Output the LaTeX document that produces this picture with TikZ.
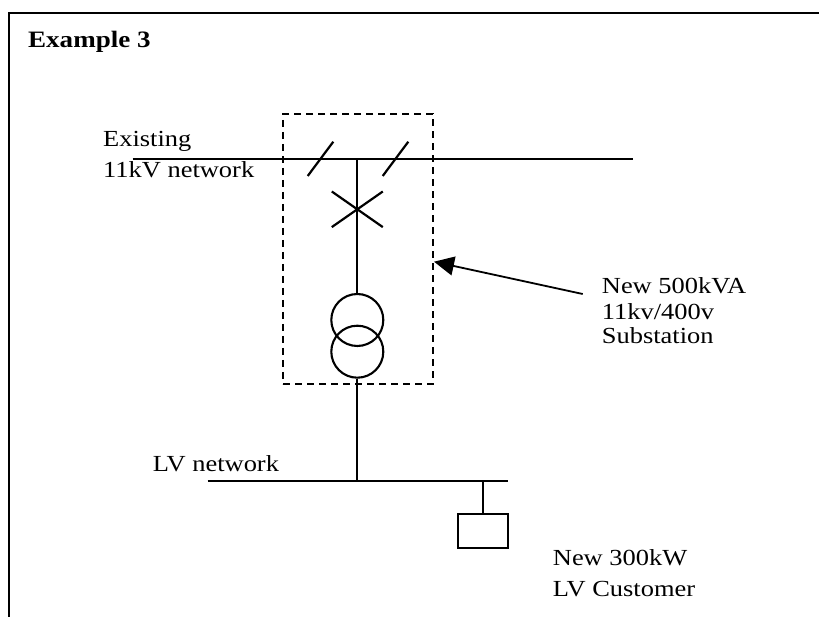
\documentclass[tikz,border=0pt]{standalone}
\usepackage{fontspec}
\setmainfont{Liberation Serif}[FakeStretch=1.15]
\usetikzlibrary{arrows.meta,calc}
\begin{document}
\begin{tikzpicture}[x=1pt,y=-1pt,
  lbl/.style={anchor=base west,inner sep=0pt,font=\fontsize{23}{27}\selectfont},
  title/.style={anchor=base west,inner sep=0pt,font=\fontsize{23.5}{28}\selectfont\bfseries},
  wire/.style={line width=2.2pt},
  thin wire/.style={line width=1.9pt},
  dashbox/.style={draw,dash pattern=on 7pt off 5pt,line width=2pt,inner sep=0pt},
  tx/.style={draw,circle,line width=2.1pt,minimum size=52pt,inner sep=0pt}]
\useasboundingbox (0,0) rectangle (819,617);
% frame
\draw[line width=2pt] (9,617) -- (9,12.7) -- (830,12.7);
\node[title] (ttl) at (28,48) {Example 3};
% HV bus
\coordinate (hvL) at (132.7,159.3);
\coordinate (hvR) at (633,159.3);
\coordinate (tee) at (357.3,159.3);
\draw[wire] (hvL) -- (hvR);
\node[lbl] (ex1) at (103,147) {Existing};
\node[lbl] (ex2) at (103,178) {11kV network};
% switches
\coordinate (s1) at (320.5,159);
\coordinate (s2) at (395.5,159);
\draw[wire] ($(s1)+(-12.8,17)$) -- ($(s1)+(12.8,-17.3)$);
\draw[wire] ($(s2)+(-12.8,17)$) -- ($(s2)+(12.8,-17.3)$);
% breaker
\coordinate (cb) at (357.3,209.3);
\draw[wire] ($(cb)+(-25.5,-17.8)$) -- ($(cb)+(25.5,17.8)$);
\draw[wire] ($(cb)+(-25.5,17.8)$) -- ($(cb)+(25.5,-17.8)$);
% transformer
\node[tx] (t1) at (357.3,320) {};
\node[tx] (t2) at (357.3,351.7) {};
\draw[wire] (tee) -- (t1.north);
% substation box
\node[dashbox,minimum width=150pt,minimum height=270pt] (sub) at (358,249) {};
% LV bus
\coordinate (lvL) at (207.7,481);
\coordinate (lvR) at (507.7,481);
\coordinate (lvT) at (357.3,481);
\draw[wire] (t2.south) -- (lvT);
\draw[thin wire] (lvL) -- (lvR);
\node[lbl] (lvn) at (152.7,471.7) {LV network};
% customer
\node[draw,line width=1.8pt,minimum width=50pt,minimum height=34pt,inner sep=0pt] (cust) at (482.7,531.3) {};
\draw[thin wire] (cust.north |- lvT) -- (cust.north);
\node[lbl] (c1) at (552.7,565) {New 300kW};
\node[lbl] (c2) at (552.7,596.7) {LV Customer};
% substation label and arrow
\node[lbl] (n1) at (601.7,294) {New 500kVA};
\node[lbl] (n2) at (601.7,319.3) {11kv/400v};
\node[lbl] (n3) at (601.7,344) {Substation};
\coordinate (atail) at (582.7,294);
\draw[line width=1.8pt,-{Triangle[length=20pt,width=19pt]}] (atail) -- (sub.east |- 0,261.7);
\end{tikzpicture}
\end{document}
